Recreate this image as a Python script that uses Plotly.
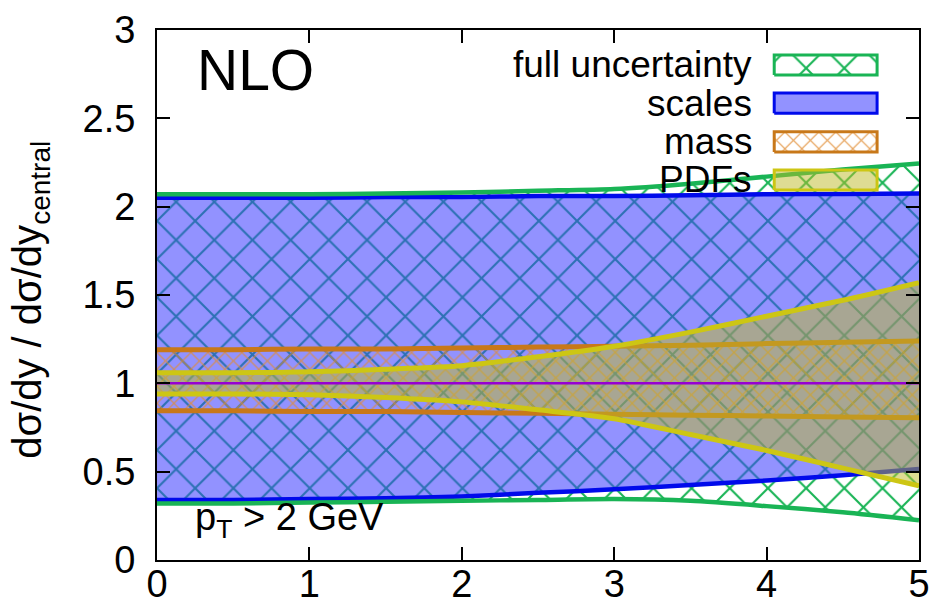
import plotly.graph_objects as go

# ---------------- data ----------------
x = [0, 0.5, 1, 1.5, 2, 2.5, 3, 3.5, 4, 4.5, 5]
full_hi = [2.07, 2.07, 2.07, 2.075, 2.08, 2.09, 2.10, 2.13, 2.17, 2.21, 2.245]
full_lo = [0.32, 0.32, 0.325, 0.33, 0.335, 0.34, 0.345, 0.335, 0.305, 0.27, 0.225]
scale_hi = [2.05, 2.05, 2.05, 2.055, 2.055, 2.06, 2.06, 2.065, 2.07, 2.072, 2.075]
scale_lo = [0.34, 0.34, 0.345, 0.35, 0.36, 0.38, 0.40, 0.425, 0.45, 0.48, 0.515]
mass_hi = [1.19, 1.19, 1.195, 1.195, 1.20, 1.205, 1.21, 1.215, 1.225, 1.232, 1.24]
mass_lo = [0.845, 0.845, 0.84, 0.84, 0.835, 0.83, 0.825, 0.82, 0.815, 0.81, 0.805]
pdf_hi = [1.06, 1.06, 1.065, 1.08, 1.10, 1.15, 1.21, 1.29, 1.38, 1.47, 1.57]
pdf_lo = [0.94, 0.94, 0.935, 0.92, 0.895, 0.85, 0.80, 0.71, 0.62, 0.52, 0.42]
central = [1, 1, 1, 1, 1, 1, 1, 1, 1, 1, 1]

legend_labels = ["full uncertainty", "scales", "mass", "PDFs"]
x_ticks = [0, 1, 2, 3, 4, 5]
y_ticks = [0, 0.5, 1, 1.5, 2, 2.5, 3]
y_tick_text = ["0", "0.5", "1", "1.5", "2", "2.5", "3"]

# ---------------- styles ----------------
FONT = "Liberation Sans, Arial, Helvetica, sans-serif"
GREEN = "rgb(25,180,85)"
BLUE_LINE = "rgb(0,10,235)"
BLUE_FILL = "rgba(60,60,255,0.56)"
ORANGE = "rgb(200,120,25)"
ORANGE_HATCH = "rgb(225,140,50)"
YELLOW = "rgb(205,198,20)"
PDF_FILL = "rgba(190,185,40,0.5)"
PURPLE = "rgb(150,0,210)"
CLEAR = "rgba(0,0,0,0)"
SMOOTH = 0.7

green_pattern = dict(shape="x", size=27, solidity=0.15, fgcolor=GREEN,
                     bgcolor=CLEAR, fgopacity=1)
mass_pattern = dict(shape="x", size=12, solidity=0.2, fgcolor=ORANGE_HATCH,
                    bgcolor=CLEAR, fgopacity=0.75)


def band(lo, hi):
    return x + x[::-1], lo + hi[::-1]


def add_band(lo, hi, **kw):
    bx, by = band(lo, hi)
    fig.add_trace(go.Scatter(x=bx, y=by, fill="toself", mode="none",
                             showlegend=False, hoverinfo="skip", **kw))


def add_edge(arr, color, width):
    fig.add_trace(go.Scatter(x=x, y=arr, mode="lines",
                             line=dict(color=color, width=width, shape="spline",
                                       smoothing=SMOOTH),
                             showlegend=False, hoverinfo="skip"))


fig = go.Figure()

# full uncertainty hatch
add_band(full_lo, full_hi, fillcolor=CLEAR, fillpattern=green_pattern)
# scales fill + edges
add_band(scale_lo, scale_hi, fillcolor=BLUE_FILL)
add_edge(scale_hi, BLUE_LINE, 4.5)
add_edge(scale_lo, BLUE_LINE, 4.5)
# mass hatch + edges
add_band(mass_lo, mass_hi, fillcolor=CLEAR, fillpattern=mass_pattern)
add_edge(mass_hi, ORANGE, 5)
add_edge(mass_lo, ORANGE, 5)
# PDFs fill + edges
add_band(pdf_lo, pdf_hi, fillcolor=PDF_FILL)
add_edge(pdf_hi, YELLOW, 5)
add_edge(pdf_lo, YELLOW, 5)
# full uncertainty edges
add_edge(full_hi, GREEN, 4.5)
add_edge(full_lo, GREEN, 4.5)
# central
add_edge(central, PURPLE, 2.5)

# ---------------- key (gnuplot style) ----------------
sw_x0, sw_x1 = 0.81, 0.945
sw_rows = [(0.915, 0.953), (0.843, 0.881), (0.770, 0.808), (0.698, 0.736)]
sw_styles = [
    dict(fillcolor="white", fillpattern=green_pattern, line=dict(color=GREEN, width=3)),
    dict(fillcolor=BLUE_FILL, line=dict(color=BLUE_LINE, width=3)),
    dict(fillcolor="white", fillpattern=mass_pattern, line=dict(color=ORANGE, width=3)),
    dict(fillcolor=PDF_FILL, line=dict(color=YELLOW, width=3)),
]
for (y0, y1), st in zip(sw_rows, sw_styles):
    fig.add_trace(go.Scatter(x=[sw_x0, sw_x1, sw_x1, sw_x0, sw_x0],
                             y=[y0, y0, y1, y1, y0], fill="toself",
                             mode="lines", xaxis="x2", yaxis="y2",
                             showlegend=False, hoverinfo="skip", **st))

annotations = []
for label, (y0, y1) in zip(legend_labels, sw_rows):
    annotations.append(dict(text=label, xref="paper", yref="paper",
                            x=0.783, y=(y0 + y1) / 2, xanchor="right",
                            yanchor="middle", showarrow=False,
                            font=dict(family=FONT, size=37, color="black")))
annotations.append(dict(text="NLO", xref="paper", yref="paper", x=0.129, y=0.925,
                        xanchor="center", yanchor="middle", showarrow=False,
                        font=dict(family=FONT, size=57, color="black")))
annotations.append(dict(text="p<sub>T</sub> > 2 GeV", xref="paper", yref="paper",
                        x=0.047, y=0.076, xanchor="left", yanchor="middle",
                        showarrow=False,
                        font=dict(family=FONT, size=38, color="black")))
annotations.append(dict(text="dσ/dy / dσ/dy<sub>central</sub>", xref="paper",
                        yref="paper", x=-0.166, y=0.49, xanchor="center",
                        yanchor="middle", textangle=-90, showarrow=False,
                        font=dict(family=FONT, size=40, color="black")))

axis_common = dict(showgrid=False, zeroline=False, showline=True, linecolor="black",
                   linewidth=2, mirror="ticks", ticks="inside", ticklen=13,
                   tickwidth=1.5, tickcolor="black", automargin=False,
                   tickfont=dict(family=FONT, size=38, color="black"))

fig.update_layout(
    width=937, height=608,
    margin=dict(l=157, r=18, t=30, b=48),
    paper_bgcolor="white", plot_bgcolor="white",
    xaxis=dict(range=[0, 5], tickvals=x_ticks, ticktext=[str(v) for v in x_ticks],
               ticklabelstandoff=-11, **axis_common),
    yaxis=dict(range=[0, 3], tickvals=y_ticks, ticktext=y_tick_text,
               ticklabelstandoff=12, **axis_common),
    xaxis2=dict(range=[0, 1], overlaying="x", visible=False, fixedrange=True),
    yaxis2=dict(range=[0, 1], overlaying="y", visible=False, fixedrange=True),
    annotations=annotations,
    showlegend=False,
)

fig.write_html("out.html")
